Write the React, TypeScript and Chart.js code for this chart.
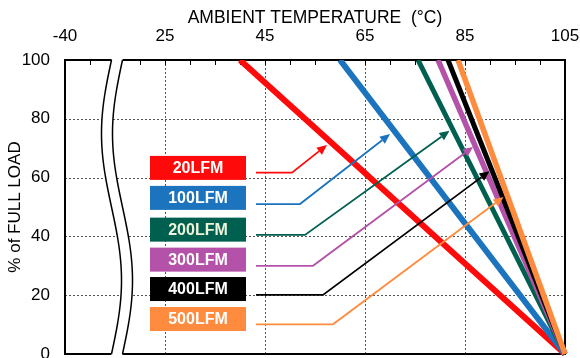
import React, { useEffect, useRef } from 'react';
import { Chart, registerables } from 'chart.js';

Chart.register(...registerables);

// ---------- data ----------
const SERIES_LABELS = ['20LFM', '100LFM', '200LFM', '300LFM', '400LFM', '500LFM'];
// ambient temperature (°C) where derating starts (100% load)
const DERATE_START_TEMP = [40, 60, 75.6, 79.6, 81.6, 83.6];
const FULL_LOAD = 100;
const ZERO_LOAD_TEMP = 105;
const ZERO_LOAD = 0;

// axis ticks (the left end of the broken axis is labelled -40)
const X_TICK_VALUES = [5, 25, 45, 65, 85, 105];
const X_TICK_LABELS = ['-40', '25', '45', '65', '85', '105'];
const X_GRID_VALUES = [25, 45, 65, 85];
const Y_TICK_VALUES = [0, 20, 40, 60, 80, 100];
const Y_GRID_VALUES = [20, 40, 60, 80];

// callout leaders (data coordinates)
const LABEL_Y = [63.3, 53.1, 42.3, 32.1, 22.1, 11.9];
const LEADER_Y = [61.7, 51, 40.5, 30, 20.1, 10.1];
const LEADER_BEND_X = [50.4, 52, 53, 54.6, 56.6, 58.6];
const ARROW_TIP_X = [57.4, 70, 81.9, 86.6, 89.9, 92.7];
const ARROW_TIP_Y = [71.1, 74.8, 75.9, 70.4, 62.2, 53.4];

// ---------- styles ----------
const SERIES_COLORS = ['#ff0a0a', '#1b74bd', '#00604f', '#b451a8', '#000000', '#ff8b3e'];
const LABEL_TEXT_COLORS = ['#ffffff', '#ffffff', '#eef3da', '#ffffff', '#ffffff', '#ffffff'];
const LINE_WIDTHS = [6, 6, 5, 5.5, 5, 5.5];
const BOX_X0 = 22;
const BOX_X1 = 41.2;
const LEADER_START_X = 43.2;
const BREAK_AT = 14.3;
const BREAK_AMP = 2;
const BREAK_GAP = 2.2;
const MINOR_STEP = 5;
const FONT = '"Liberation Sans", Arial, sans-serif';

const decorPlugin = {
  id: 'decor',
  beforeDatasetsDraw(chart: any) {
    const { ctx, chartArea: a, scales } = chart;
    const xs = scales.x;
    const ys = scales.y;
    ctx.save();
    // dotted grid
    ctx.strokeStyle = '#555555';
    ctx.lineWidth = 1;
    ctx.setLineDash([2, 2]);
    for (const v of X_GRID_VALUES) {
      const px = Math.round(xs.getPixelForValue(v)) + 0.5;
      ctx.beginPath();
      ctx.moveTo(px, a.top);
      ctx.lineTo(px, a.bottom);
      ctx.stroke();
    }
    for (const v of Y_GRID_VALUES) {
      const py = Math.round(ys.getPixelForValue(v)) + 0.5;
      ctx.beginPath();
      ctx.moveTo(a.left, py);
      ctx.lineTo(a.right, py);
      ctx.stroke();
    }
    ctx.setLineDash([]);
    // minor ticks on top axis (inward)
    ctx.strokeStyle = '#000';
    ctx.lineWidth = 1;
    for (let v = xs.min + MINOR_STEP; v < xs.max; v += MINOR_STEP) {
      const px = Math.round(xs.getPixelForValue(v)) + 0.5;
      ctx.beginPath();
      ctx.moveTo(px, a.top);
      ctx.lineTo(px, a.top + 5);
      ctx.stroke();
    }
    // frame
    ctx.lineWidth = 2;
    ctx.strokeRect(a.left, a.top, a.right - a.left, a.bottom - a.top);
    // axis break
    const H = a.bottom - a.top;
    const cx = xs.getPixelForValue(BREAK_AT);
    const amp = xs.getPixelForValue(BREAK_AT + BREAK_AMP) - cx;
    const gap = xs.getPixelForValue(BREAK_AT + BREAK_GAP) - cx;
    const curve = (py: number) => cx - amp * Math.sin((2 * Math.PI * (py - a.top)) / H);
    const y0 = a.top - 1.5;
    const y1 = a.bottom + 1.5;
    ctx.beginPath();
    for (let py = y0; py <= y1; py += 1) ctx.lineTo(curve(py), py);
    for (let py = y1; py >= y0; py -= 1) ctx.lineTo(curve(py) + gap, py);
    ctx.closePath();
    ctx.fillStyle = '#fff';
    ctx.fill();
    ctx.lineWidth = 1.5;
    ctx.strokeStyle = '#000';
    for (const off of [0, gap]) {
      ctx.beginPath();
      for (let py = a.top; py <= a.bottom; py += 1) {
        if (py === a.top) ctx.moveTo(curve(py) + off, py);
        else ctx.lineTo(curve(py) + off, py);
      }
      ctx.stroke();
    }
    ctx.restore();
  },
  afterDatasetsDraw(chart: any) {
    const { ctx, scales } = chart;
    const xs = scales.x;
    const ys = scales.y;
    ctx.save();
    SERIES_LABELS.forEach((label, i) => {
      const color = SERIES_COLORS[i];
      // leader with arrow
      const x0 = xs.getPixelForValue(LEADER_START_X);
      const ly = ys.getPixelForValue(LEADER_Y[i]);
      const x1 = xs.getPixelForValue(LEADER_BEND_X[i]);
      const tx = xs.getPixelForValue(ARROW_TIP_X[i]);
      const ty = ys.getPixelForValue(ARROW_TIP_Y[i]);
      const ang = Math.atan2(ty - ly, tx - x1);
      const L = 10;
      const W = 4.5;
      const bx = tx - L * Math.cos(ang);
      const by = ty - L * Math.sin(ang);
      ctx.strokeStyle = color;
      ctx.lineWidth = 1.8;
      ctx.lineJoin = 'miter';
      ctx.beginPath();
      ctx.moveTo(x0, ly);
      ctx.lineTo(x1, ly);
      ctx.lineTo(bx, by);
      ctx.stroke();
      ctx.fillStyle = color;
      ctx.beginPath();
      ctx.moveTo(tx, ty);
      ctx.lineTo(bx + W * Math.sin(ang), by - W * Math.cos(ang));
      ctx.lineTo(bx - W * Math.sin(ang), by + W * Math.cos(ang));
      ctx.closePath();
      ctx.fill();
      // label box
      const bx0 = xs.getPixelForValue(BOX_X0);
      const bx1 = xs.getPixelForValue(BOX_X1);
      const cy = ys.getPixelForValue(LABEL_Y[i]);
      ctx.fillStyle = color;
      ctx.fillRect(bx0, cy - 12, bx1 - bx0, 24);
      ctx.fillStyle = LABEL_TEXT_COLORS[i];
      ctx.font = `bold 16px ${FONT}`;
      ctx.textAlign = 'center';
      ctx.textBaseline = 'middle';
      ctx.fillText(label, (bx0 + bx1) / 2, cy + 1);
    });
    ctx.restore();
  },
};

export default function App() {
  const ref = useRef<HTMLCanvasElement>(null);
  useEffect(() => {
    document.body.style.margin = '0';
    Chart.defaults.font.family = FONT;
    const chart = new Chart(ref.current as HTMLCanvasElement, {
      type: 'line',
      data: {
        datasets: SERIES_LABELS.map((label, i) => ({
          label,
          data: [
            { x: DERATE_START_TEMP[i], y: FULL_LOAD },
            { x: ZERO_LOAD_TEMP, y: ZERO_LOAD },
          ],
          borderColor: SERIES_COLORS[i],
          backgroundColor: SERIES_COLORS[i],
          borderWidth: LINE_WIDTHS[i],
          pointRadius: 0,
          fill: false,
          tension: 0,
          order: SERIES_LABELS.length - i,
          clip: { left: 0, top: 0, right: 4, bottom: 4 },
        })),
      },
      options: {
        responsive: false,
        animation: false,
        devicePixelRatio: 1,
        layout: { padding: { left: 0, top: 0, right: 15, bottom: 4 } },
        plugins: { legend: { display: false }, tooltip: { enabled: false } },
        scales: {
          x: {
            type: 'linear',
            position: 'top',
            min: 5,
            max: 105,
            afterBuildTicks: (s: any) => {
              s.ticks = X_TICK_VALUES.map((v) => ({ value: v }));
            },
            afterFit: (s: any) => {
              s.height = 60;
              s.paddingLeft = 0;
              s.paddingRight = 0;
            },
            grid: { display: false, drawTicks: false },
            border: { display: false },
            ticks: {
              callback: (_v: any, idx: number) => X_TICK_LABELS[idx],
              padding: 13,
              color: '#000',
              font: { size: 17 },
              maxRotation: 0,
              autoSkip: false,
            },
            title: {
              display: true,
              text: 'AMBIENT TEMPERATURE  (°C)',
              color: '#000',
              font: { size: 17.5 },
              padding: { top: 8, bottom: 0 },
            },
          },
          y: {
            type: 'linear',
            position: 'left',
            min: 0,
            max: 100,
            afterBuildTicks: (s: any) => {
              s.ticks = Y_TICK_VALUES.map((v) => ({ value: v }));
            },
            afterFit: (s: any) => {
              s.width = 65;
              s.paddingTop = 0;
              s.paddingBottom = 0;
            },
            grid: { display: false, drawTicks: false },
            border: { display: false },
            ticks: { padding: 15, color: '#000', font: { size: 17 }, autoSkip: false },
            title: {
              display: true,
              text: '% of FULL LOAD',
              color: '#000',
              font: { size: 17 },
              padding: { top: 5, bottom: 0 },
            },
          },
        },
      } as any,
      plugins: [decorPlugin],
    });
    return () => chart.destroy();
  }, []);
  return <canvas ref={ref} width={580} height={358} style={{ display: 'block' }} />;
}
